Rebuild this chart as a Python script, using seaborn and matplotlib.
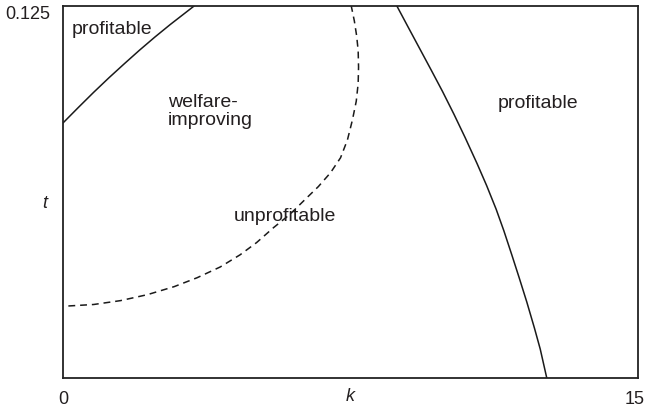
import matplotlib
matplotlib.use("Agg")
import matplotlib.pyplot as plt
import matplotlib.transforms as mtransforms
import seaborn as sns
import pandas as pd

# Upper-left solid boundary (profitable region)
k_left = [0.0, 0.4, 0.8, 1.2, 1.6, 2.0, 2.4, 2.8, 3.2, 3.42]
t_left = [0.0857, 0.0909, 0.0960, 0.1009, 0.1056, 0.1102, 0.1146, 0.1188, 0.1228, 0.125]

# Dashed welfare-improving boundary
k_dash = [0.14, 0.8, 1.5, 2.2, 2.9, 3.5, 4.1, 4.62, 5.05, 5.49, 5.92, 6.30, 6.66,
          6.98, 7.24, 7.42, 7.55, 7.65, 7.70, 7.71, 7.70, 7.66, 7.60, 7.52]
t_dash = [0.0242, 0.0247, 0.0260, 0.0280, 0.0307, 0.0337, 0.0373, 0.0414, 0.0455,
          0.0505, 0.0550, 0.0598, 0.0643, 0.0690, 0.0740, 0.0800, 0.0867, 0.0930,
          0.0990, 0.1045, 0.1100, 0.1150, 0.1200, 0.125]

# Right solid boundary (profitable region)
k_right = [8.71, 9.0, 9.3, 9.6, 9.9, 10.2, 10.49, 10.8, 11.05, 11.3, 11.5, 11.71,
           11.9, 12.1, 12.3, 12.45, 12.62]
t_right = [0.125, 0.1180, 0.1108, 0.1036, 0.0963, 0.0886, 0.0808, 0.0721, 0.0647,
           0.0567, 0.0495, 0.0413, 0.0337, 0.0255, 0.0167, 0.0097, 0.0]

x_ticks = [0, 15]
x_tick_labels = ["0", "15"]
y_ticks = [0.125]
y_tick_labels = ["0.125"]

region_labels = ["profitable", "welfare-\nimproving", "unprofitable", "profitable"]
region_k = [0.235, 2.74, 4.46, 11.35]
region_t = [0.117, 0.0896, 0.0541, 0.0924]

sns.set_style("white")
plt.rcParams["font.family"] = ["Liberation Sans", "DejaVu Sans"]

fig = plt.figure(figsize=(6.45, 4.08), dpi=100)
ax = fig.add_axes([63 / 645, 30 / 408, 575 / 645, 372 / 408])

line_color = "#1a1a1a"
text_color = "#231f20"

df_left = pd.DataFrame({"k": k_left, "t": t_left})
df_dash = pd.DataFrame({"k": k_dash, "t": t_dash})
df_right = pd.DataFrame({"k": k_right, "t": t_right})

sns.lineplot(data=df_left, x="k", y="t", ax=ax, sort=False, estimator=None,
             color=line_color, linewidth=1.1)
sns.lineplot(data=df_dash, x="k", y="t", ax=ax, sort=False, estimator=None,
             color=line_color, linewidth=1.1, linestyle=(0, (4.5, 3.2)))
sns.lineplot(data=df_right, x="k", y="t", ax=ax, sort=False, estimator=None,
             color=line_color, linewidth=1.1)

for lab, kx, ty in zip(region_labels, region_k, region_t):
    ax.text(kx, ty, lab, ha="left", va="center", fontsize=14, color=text_color,
            linespacing=1.08)

ax.set_xlim(0, 15)
ax.set_ylim(0, 0.125)
ax.set_xticks(x_ticks)
ax.set_xticklabels(x_tick_labels)
ax.set_yticks(y_ticks)
ax.set_yticklabels(y_tick_labels)
ax.tick_params(axis="both", length=0, labelsize=13, colors=text_color)
ax.tick_params(axis="x", pad=9)
ax.tick_params(axis="y", pad=9)
for lbl in ax.get_yticklabels():
    lbl.set_va("top")
# nudge the "15" label slightly left so it stays inside the canvas
shift = mtransforms.ScaledTranslation(-3 / 100, 0, fig.dpi_scale_trans)
last = ax.get_xticklabels()[-1]
last.set_transform(last.get_transform() + shift)

ax.set_xlabel("k", fontsize=13, style="italic", color=text_color)
ax.xaxis.set_label_coords(0.5, -0.028)
ax.set_ylabel("t", fontsize=13, style="italic", color=text_color, rotation=0,
              ha="center", va="center")
ax.yaxis.set_label_coords(-0.031, 0.47)

for sp in ax.spines.values():
    sp.set_visible(True)
    sp.set_color("#222222")
    sp.set_linewidth(1.3)

fig.savefig("out.png", dpi=100)
